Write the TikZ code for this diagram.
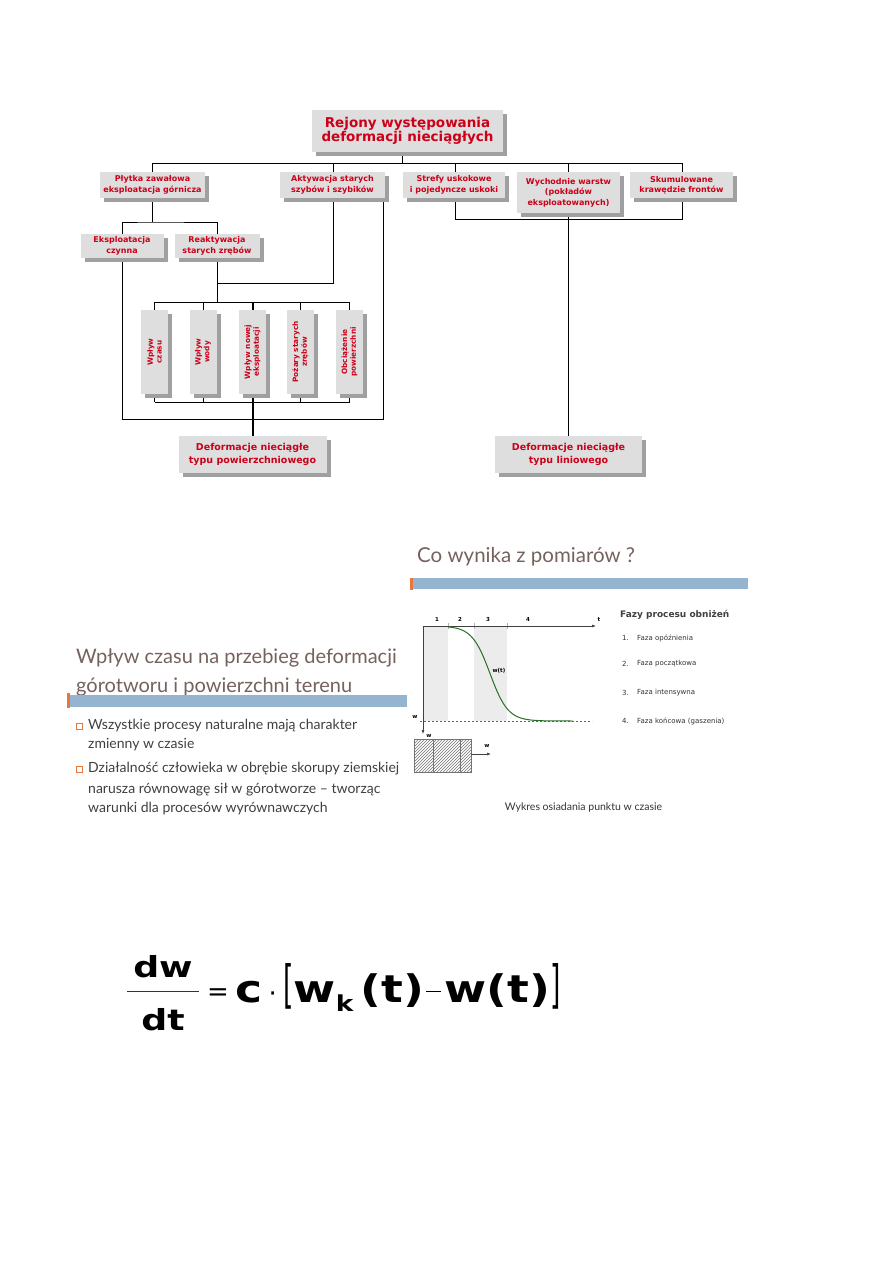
\documentclass[tikz,border=0pt]{standalone}
\usepackage{fontspec}
\usepackage{graphicx}
\setmainfont{DejaVu Sans}
\newfontfamily\slidefont{Lato}
\usetikzlibrary{shadows,patterns,arrows.meta,calc}
\definecolor{redt}{RGB}{204,0,24}
\definecolor{boxgray}{RGB}{222,222,222}
\definecolor{shgray}{RGB}{160,160,160}
\definecolor{titlebrown}{RGB}{118,98,92}
\definecolor{slidetext}{RGB}{64,64,64}
\definecolor{barblue}{RGB}{148,180,207}
\definecolor{orangemark}{RGB}{230,120,60}
\definecolor{curvegreen}{RGB}{40,110,40}
\definecolor{shadegray}{RGB}{236,236,236}
\pgfdeclarelayer{bg}
\pgfsetlayers{bg,main}
\begin{document}
\begin{tikzpicture}[x=1pt,y=-1pt,
  cbox/.style={fill=boxgray, text=redt, align=center, inner sep=1pt,
    drop shadow={shadow xshift=4pt, shadow yshift=-4pt, fill=shgray, opacity=1}},
  lvtwo/.style={cbox, minimum height=26pt, font=\bfseries\fontsize{8}{10.5}\selectfont},
  vbox/.style={cbox, rotate=90, minimum width=84pt, minimum height=27pt, font=\bfseries\fontsize{7.3}{8.8}\selectfont},
  endbox/.style={cbox, minimum height=37pt, font=\bfseries\fontsize{9.5}{12.5}\selectfont},
  conn/.style={line width=1pt, black},
  thickconn/.style={line width=2pt, black},
  stitle/.style={font=\slidefont\fontsize{20}{22}\selectfont, text=titlebrown, inner sep=0pt, anchor=base west},
  stext/.style={font=\slidefont\fontsize{14}{16}\selectfont, text=slidetext, inner sep=0pt, anchor=base west},
  ctext/.style={font=\fontsize{7}{8}\selectfont, text=black!80, inner sep=0pt, anchor=west},
  small/.style={font=\bfseries\fontsize{5.5}{6}\selectfont, inner sep=0pt}
]
\useasboundingbox (0,0) rectangle (893,1263);
\begin{pgfonlayer}{bg}
\fill[white] (0,0) rectangle (893,1263);
\end{pgfonlayer}

% ---------------- top chart ----------------
\node[cbox, minimum width=191pt, minimum height=42pt, font=\bfseries\fontsize{13.5}{14.5}\selectfont] (top) at (407.5,131) {Rejony występowania\\deformacji nieciągłych};

\node[lvtwo, minimum width=105pt] (plytka) at (152.5,185) {Płytka zawałowa\\eksploatacja górnicza};
\node[lvtwo, minimum width=105pt] (aktyw) at (332.5,185) {Aktywacja starych\\szybów i szybików};
\node[lvtwo, minimum width=102pt] (strefy) at (454,185) {Strefy uskokowe\\i pojedyncze uskoki};
\node[lvtwo, minimum width=103pt, minimum height=41pt] (wych) at (568.5,192.5) {Wychodnie warstw\\(pokładów\\eksploatowanych)};
\node[lvtwo, minimum width=103pt] (skum) at (681.5,185) {Skumulowane\\krawędzie frontów};

\node[lvtwo, minimum width=83pt, minimum height=24pt] (eksp) at (122,246) {Eksploatacja\\czynna};
\node[lvtwo, minimum width=85pt, minimum height=24pt] (reakt) at (217,246) {Reaktywacja\\starych zrębów};

\node[vbox] (v1) at (154.5,352) {Wpływ\\czasu};
\node[vbox] (v2) at (203,352) {Wpływ\\wody};
\node[vbox] (v3) at (252.5,352) {Wpływ nowej\\eksploatacji};
\node[vbox] (v4) at (300.5,352) {Pożary starych\\zrębów};
\node[vbox] (v5) at (349.5,352) {Obciążenie\\powierzchni};

\node[endbox, minimum width=148pt] (defpow) at (252.5,454.5) {Deformacje nieciągłe\\typu powierzchniowego};
\node[endbox, minimum width=147pt] (deflin) at (568.5,454.5) {Deformacje nieciągłe\\typu liniowego};

\coordinate (hA) at (152,163);
\coordinate (hB) at (682,163);
\coordinate (p1) at (152,222);
\coordinate (eL) at (122,419);
\coordinate (aR) at (383,419);
\coordinate (jr) at (217,283);
\coordinate (jA) at (333,283);
\coordinate (vt) at (217,302);
\coordinate (vb) at (217,402);
\coordinate (sj) at (455,219);
\coordinate (tdrop) at (402,163);

\begin{pgfonlayer}{bg}
  \draw[conn] (hA) -- (hB);
  \draw[conn] (top.south -| tdrop) -- (tdrop);
  \draw[conn] (plytka.north) -- (plytka.north |- hA);
  \draw[conn] (aktyw.north -| jA) -- (jA |- hA);
  \draw[conn] (strefy.north -| sj) -- (sj |- hA);
  \draw[conn] (wych.north) -- (wych.north |- hA);
  \draw[conn] (skum.north -| hB) -- (hB);
  % Plytka -> two boxes
  \draw[conn] (plytka.south -| p1) -- (p1);
  \draw[conn] (eksp.north) |- (p1) -| (reakt.north);
  % big bracket
  \draw[conn] (eksp.south) -- (eL) -- (aR) -- (aR |- aktyw.south);
  % reaktywacja + aktywacja junction
  \draw[conn] (reakt.south) -- (vt);
  \draw[conn] (jr) -- (jA) -- (jA |- aktyw.south);
  % vertical boxes
  \draw[conn] (v1.east |- vt) -- (v5.east |- vt);
  \draw[conn] (v1.east) -- (v1.east |- vt);
  \draw[conn] (v2.east) -- (v2.east |- vt);
  \draw[conn] (v4.east) -- (v4.east |- vt);
  \draw[conn] (v5.east) -- (v5.east |- vt);
  \draw[conn] (v1.west |- vb) -- (v5.west |- vb);
  \draw[conn] (v1.west) -- (v1.west |- vb);
  \draw[conn] (v2.west) -- (v2.west |- vb);
  \draw[conn] (v4.west) -- (v4.west |- vb);
  \draw[conn] (v5.west) -- (v5.west |- vb);
  \draw[thickconn] (v3.east |- vt) -- (defpow.north);
  % linear branch
  \draw[conn] (strefy.south -| sj) -- (sj) -- (sj -| hB) -- (skum.south -| hB);
  \draw[conn] (wych.south) -- (deflin.north);
\end{pgfonlayer}

% ---------------- right slide ----------------
\node[stitle, font=\slidefont\fontsize{20.5}{22}\selectfont] (cotitle) at (417,562) {Co wynika z pomiarów ?};
\fill[barblue] (413,578) rectangle (748,589);
\fill[orangemark] (410,578) rectangle (412.5,590);

% chart
\fill[shadegray] (423,626) rectangle (448,721);
\fill[shadegray] (474,626) rectangle (507,721);
\draw[gray!60, line width=0.5pt] (448,623) -- (448,629) (474,623) -- (474,629) (507,623) -- (507,629);
\draw[black!75, line width=0.6pt, -{Latex[length=4pt,width=3pt]}] (423,626) -- (596,626);
\draw[black!75, line width=0.6pt, -{Latex[length=4pt,width=3pt]}] (423,626) -- (423,734);
\draw[black!60, dashed, line width=0.5pt, dash pattern=on 2pt off 2pt] (420,721) -- (592,721);
\draw[curvegreen, line width=1pt] plot[domain=448:573, samples=90] (\x, {626+95/(1+exp(-(\x-490)/9))});
\node[small] (n1) at (437,619) {1};
\node[small] (n2) at (460,619) {2};
\node[small] (n3) at (488,619) {3};
\node[small] (n4) at (528,619) {4};
\node[small] (tl) at (599,620) {t};
\node[small] (wt) at (499,671) {w(t)};
\node[small] (wk) at (415,717) {w};
\node[small] (wax) at (429,736) {w};
\fill[pattern=north east lines, pattern color=black!55] (414,739) rectangle (471,772);
\draw[black!55, line width=0.5pt] (414,739) rectangle (471,772) (433,739) -- (433,772) (460,739) -- (460,772);
\draw[black!75, line width=0.6pt, -{Latex[length=4pt,width=3pt]}] (471,754) -- (491,754);
\node[small] (wr) at (487,746) {w};

\node[font=\bfseries\fontsize{9}{10}\selectfont, text=black!75, inner sep=0pt, anchor=west] (fazy) at (620,615) {Fazy procesu obniżeń};
\node[ctext] (f1n) at (622,638) {1.};
\node[ctext] (f1) at (637,638) {Faza opóźnienia};
\node[ctext] (f2n) at (622,664) {2.};
\node[ctext] (f2) at (637,664) {Faza początkowa};
\node[ctext] (f3n) at (622,693) {3.};
\node[ctext] (f3) at (637,693) {Faza intensywna};
\node[ctext] (f4n) at (622,721) {4.};
\node[ctext] (f4) at (637,721) {Faza końcowa (gaszenia)};
\node[font=\slidefont\fontsize{10.5}{12}\selectfont, text=black!80, inner sep=0pt] (caption) at (583.5,808) {Wykres osiadania punktu w czasie};

% ---------------- left slide ----------------
\node[stitle] (lt1) at (76,663) {Wpływ czasu na przebieg deformacji};
\node[stitle] (lt2) at (76,692) {górotworu i powierzchni terenu};
\fill[barblue] (70,695) rectangle (407,707);
\fill[orangemark] (67,693) rectangle (69.5,708);
\draw[orangemark, line width=0.8pt] (76.5,723) rectangle (82.5,729);
\draw[orangemark, line width=0.8pt] (76.5,766) rectangle (82.5,772);
\node[stext] (b1a) at (88,729) {Wszystkie procesy naturalne mają charakter};
\node[stext] (b1b) at (88,748) {zmienny w czasie};
\node[stext] (b2a) at (88,772) {Działalność człowieka w obrębie skorupy ziemskiej};
\node[stext] (b2b) at (88,793) {narusza równowagę sił w górotworze – tworząc};
\node[stext] (b2c) at (88,812) {warunki dla procesów wyrównawczych};

% ---------------- formula ----------------
\node[font=\bfseries\fontsize{29}{30}\selectfont, inner sep=0pt, anchor=base] (dw) at (163,977) {\scalebox{1.25}[1]{dw}};
\node[font=\bfseries\fontsize{29}{30}\selectfont, inner sep=0pt, anchor=base] (dt) at (163,1030) {\scalebox{1.25}[1]{dt}};
\draw[black!80, line width=1pt] (127,991) -- (199,991);
\node[font=\fontsize{38}{40}\selectfont, inner sep=0pt, anchor=base west] (rhs) at (207,1002)
  {{\fontsize{26}{26}\selectfont\raisebox{2pt}{=}}\,\scalebox{1.2}[1]{\bfseries c}\,{\fontsize{26}{26}\selectfont·}\,\scalebox{0.7}[1.35]{\mdseries[}\scalebox{1.2}[1]{\bfseries w\raisebox{-9pt}{\fontsize{22}{22}\selectfont k}\,(t)}\hspace{2pt}\rule[10pt]{15pt}{1.3pt}\hspace{3pt}\scalebox{1.2}[1]{\bfseries w(t)}\scalebox{0.7}[1.35]{\mdseries]}};
\end{tikzpicture}
\end{document}
